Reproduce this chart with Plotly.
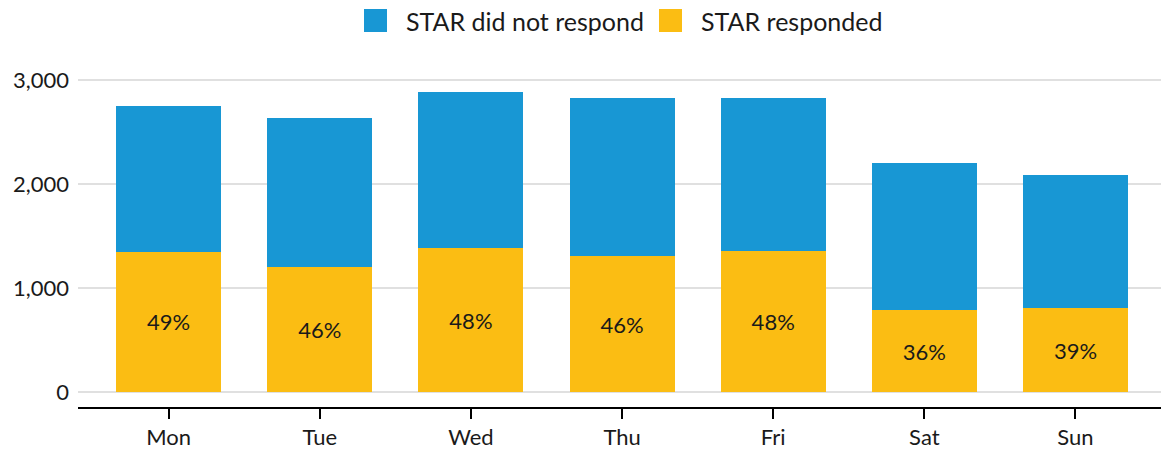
import plotly.graph_objects as go

days = ["Mon", "Tue", "Wed", "Thu", "Fri", "Sat", "Sun"]
responded = [1349, 1205, 1385, 1308, 1359, 785, 808]
not_responded = [1407, 1435, 1500, 1519, 1468, 1417, 1284]
pct_labels = ["49%", "46%", "48%", "46%", "48%", "36%", "39%"]
legend_names = ["STAR did not respond", "STAR responded"]

BLUE = "#1897d4"
YELLOW = "#fbbd13"
FONT = "Lato, 'Noto Sans', sans-serif"

fig = go.Figure()

# stacked bars: yellow at the bottom, blue on top
fig.add_trace(go.Bar(
    x=days, y=responded, name=legend_names[1],
    marker=dict(color=YELLOW, line=dict(width=0)),
    text=pct_labels, textposition="inside", insidetextanchor="middle",
    textfont=dict(size=22, color="#1a1a1a"), showlegend=False,
))
fig.add_trace(go.Bar(
    x=days, y=not_responded, name=legend_names[0],
    marker=dict(color=BLUE, line=dict(width=0)),
    showlegend=False,
))

# hand-made legend (plotly caps legend swatches at 16px, these are ~23px)
# plot area: x 78..1161 px, y 70..407 px
def px_x(p):
    return (p - 78) / 1083

def px_y(p):
    return (407 - p) / 337

for (sq_left, text_left), name, color in zip(
    [(364, 404), (659, 699)], legend_names, [BLUE, YELLOW]
):
    fig.add_shape(
        type="rect", xref="paper", yref="paper",
        x0=px_x(sq_left), x1=px_x(sq_left + 23), y0=px_y(32), y1=px_y(9),
        fillcolor=color, line=dict(width=0),
    )
    fig.add_annotation(
        text=name, xref="paper", yref="paper", x=px_x(text_left), y=px_y(21),
        xanchor="left", yanchor="middle", showarrow=False,
        font=dict(size=25, color="#1a1a1a"),
    )

fig.update_layout(
    width=1161, height=453,
    barmode="stack", bargap=0.305,
    plot_bgcolor="white", paper_bgcolor="white",
    font=dict(family=FONT, size=22, color="#1a1a1a"),
    margin=dict(l=78, r=0, t=70, b=46, autoexpand=False),
    showlegend=False,
)
fig.update_xaxes(
    range=[-0.6, 6.566], showline=True, linecolor="black", linewidth=2,
    ticks="outside", ticklen=10, tickwidth=2, tickcolor="black",
    showgrid=False, zeroline=False, automargin=False,
)
fig.update_yaxes(
    range=[-144, 3099], tickvals=[0, 1000, 2000, 3000], tickformat=",",
    showgrid=True, gridcolor="#e0e0e0", gridwidth=2, zeroline=False,
    showline=False, ticks="", ticklabelstandoff=8, automargin=False,
)

# drop the browser's default 8px body margin
fig.write_html(
    "out.html",
    config={"displayModeBar": False},
    post_script="document.body.style.margin='0';",
)
